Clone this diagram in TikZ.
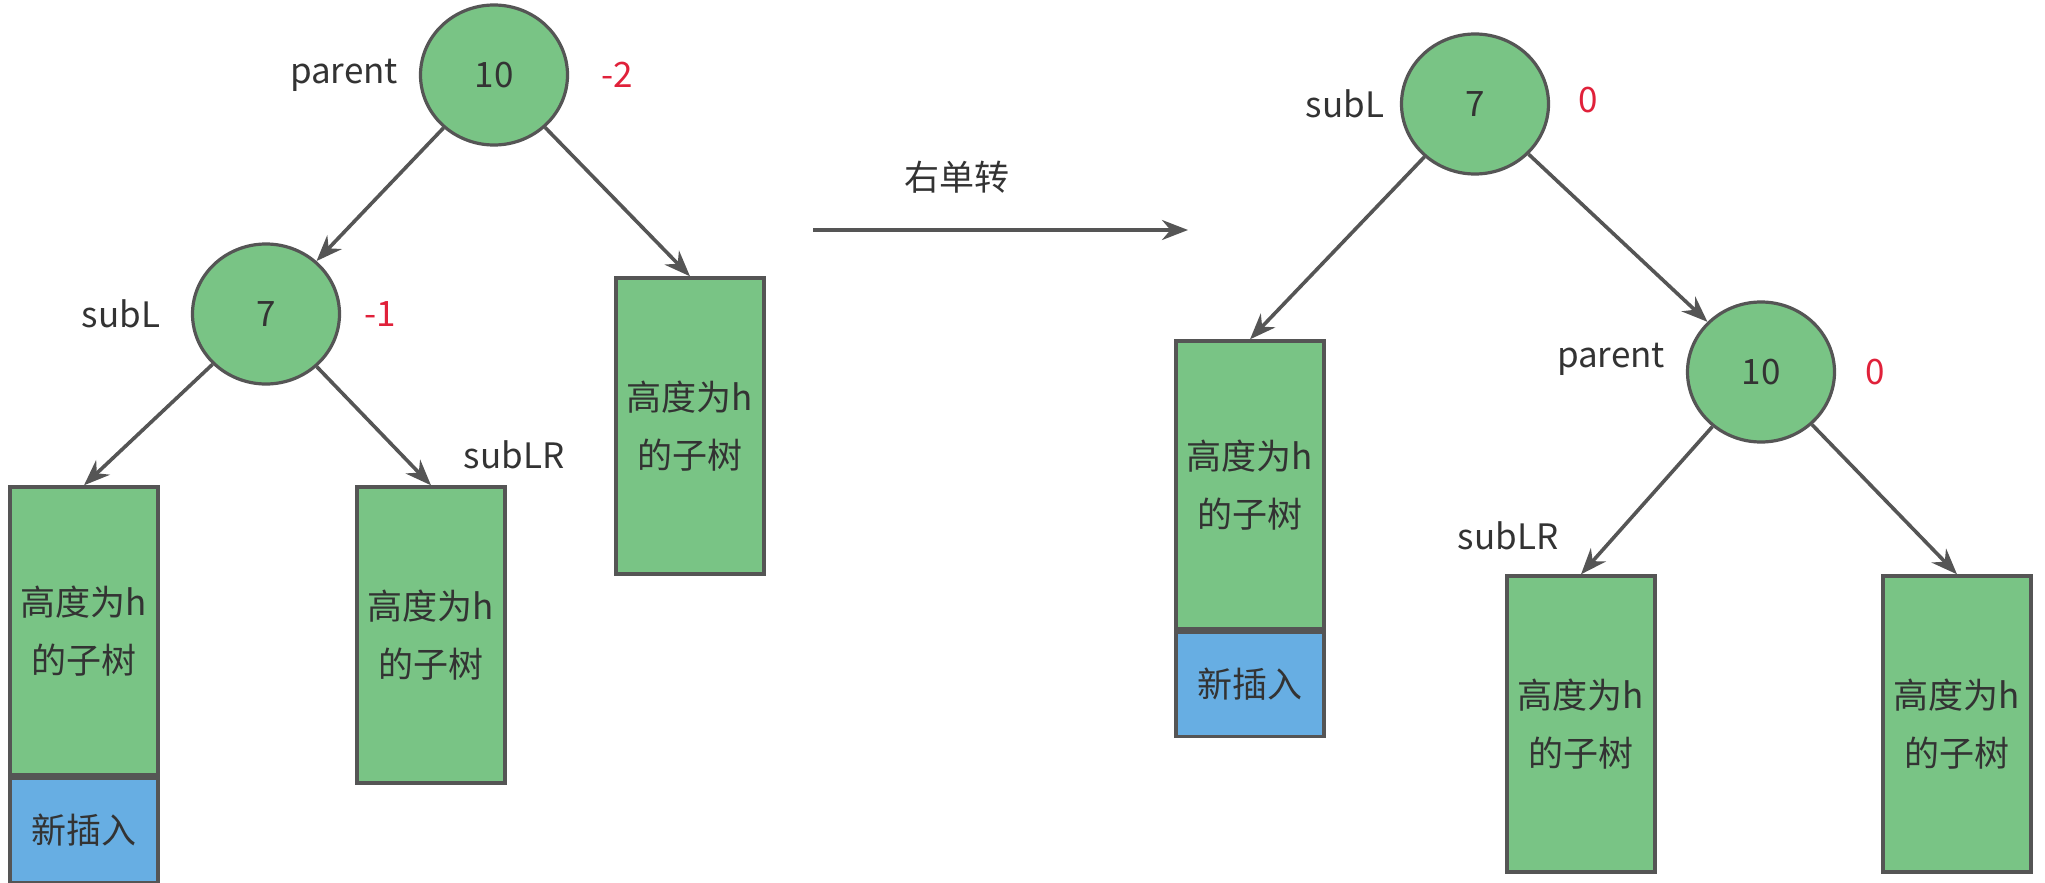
\documentclass[tikz,border=0pt]{standalone}
\usepackage{fontspec}
\setmainfont{Noto Sans CJK SC}
\usetikzlibrary{positioning,arrows.meta,shapes.geometric}
\definecolor{nodegreen}{HTML}{79C485}
\definecolor{newblue}{HTML}{67AEE3}
\definecolor{edgegray}{HTML}{555555}
\definecolor{factorred}{HTML}{E0213A}
\definecolor{inkgray}{HTML}{333333}

\begin{document}
\begin{tikzpicture}[
  x=0.5pt, y=-0.5pt,
  font=\fontsize{17.5}{29}\selectfont, >={Stealth[length=13pt,width=10pt]},
  keynode/.style={ellipse,draw=edgegray,line width=1.6pt,fill=nodegreen,inner sep=0pt,minimum width=73.5pt,minimum height=70pt,text=inkgray},
  subtree/.style={rectangle,draw=edgegray,line width=1.7pt,fill=nodegreen,align=center,inner sep=0pt,minimum width=74pt,minimum height=148pt,text=inkgray},
  grown/.style={subtree,minimum height=144pt},
  newleaf/.style={subtree,fill=newblue,minimum height=52pt,anchor=north},
  tag/.style={text=inkgray},
  bf/.style={text=factorred},
  flow/.style={->,draw=edgegray,line width=1.8pt},
]
\useasboundingbox (0,0) rectangle (2045,883);
% before rotation
\node[keynode] (pA) at (494,75)  {10};
\node[keynode] (sA) at (266,314) {7};
\node[grown]   (tA1) at (84,631)  {高度为h\\的子树};
\node[newleaf] (nA)  at (tA1.south) {新插入};
\node[subtree] (tA2) at (431,635) {高度为h\\的子树};
\node[subtree] (tA3) at (690,426) {高度为h\\的子树};
\node[tag] (lpA)  at (344,75)  {parent};
\node[bf]  (bpA)  at (617,75)  {-2};
\node[tag] (lsA)  at (121,314) {subL};
\node[bf]  (bsA)  at (380,314) {-1};
\node[tag] (llrA) at (514,455) {subLR};
\draw[flow] (pA) -- (sA);
\draw[flow] (pA) -- (tA3.north);
\draw[flow] (sA) -- (tA1.north);
\draw[flow] (sA) -- (tA2.north);
% rotation
\coordinate (rotS) at (813,230);
\coordinate (rotE) at (1188,230);
\node[tag] (rotL) at (957,177) {右单转};
\draw[flow] (rotS) -- (rotE);
% after rotation
\node[keynode] (sB) at (1475,104) {7};
\node[keynode] (pB) at (1761,372) {10};
\node[grown]   (tB1) at (1250,485) {高度为h\\的子树};
\node[newleaf] (nB)  at (tB1.south) {新插入};
\node[subtree] (tB2) at (1581,724) {高度为h\\的子树};
\node[subtree] (tB3) at (1957,724) {高度为h\\的子树};
\node[tag] (lsB)  at (1345,104) {subL};
\node[bf]  (bsB)  at (1588,100) {0};
\node[tag] (lpB)  at (1611,359) {parent};
\node[bf]  (bpB)  at (1875,372) {0};
\node[tag] (llrB) at (1508,536) {subLR};
\draw[flow] (sB) -- (tB1.north);
\draw[flow] (sB) -- (pB);
\draw[flow] (pB) -- (tB2.north);
\draw[flow] (pB) -- (tB3.north);
\end{tikzpicture}
\end{document}
